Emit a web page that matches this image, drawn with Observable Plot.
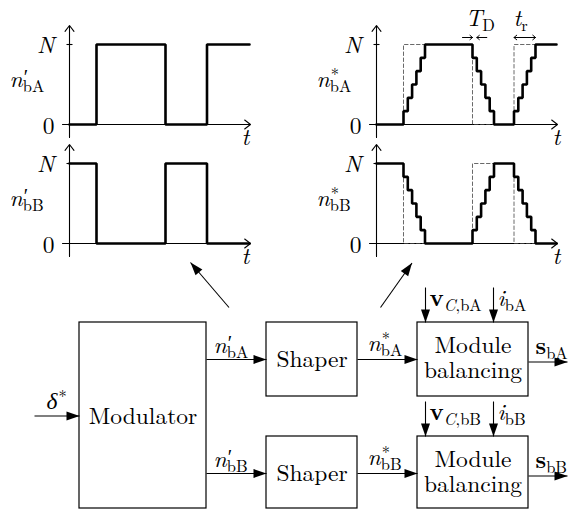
<!DOCTYPE html>
<html><head><meta charset="utf-8">
<script src="https://cdn.jsdelivr.net/npm/d3@7"></script>
<script src="https://cdn.jsdelivr.net/npm/@observablehq/plot@0.6"></script>
<style>
html,body{margin:0;padding:0;background:#fff;}
#chart svg{display:block;background:#fff}
</style>
</head><body><div id="chart"></div>
<script>
// ---------------- data ----------------
const N_LEVELS = 6;                 // levels of the shaped signal (0 … N)
const T_END = 18;                   // time span shown in each waveform panel
const T_D = 0.43;                   // dwell time per level
const edgesA = [2.7, 9.6, 13.75];   // switching instants, leg A
const edgesB = [2.7, 9.6, 13.75];   // switching instants, leg B
const startA = 0;                   // leg A starts low
const startB = N_LEVELS;            // leg B starts high
const tickLabels = ["0", "N"];
const legs = ["bA", "bB"];
const blockNames = ["Modulator", "Shaper", "Module", "balancing"];

// ---------------- layout ----------------
const FONT = "Latin Modern Roman";
const PX_T = 10, PANEL_H = 80;
const panels = [
  {x0: 69,  y0: 124, edges: edgesA, start: startA, shaped: false, mark: "′", leg: legs[0], tx: 172},
  {x0: 69,  y0: 243, edges: edgesB, start: startB, shaped: false, mark: "′", leg: legs[1], tx: 172},
  {x0: 376, y0: 124, edges: edgesA, start: startA, shaped: true,  mark: "*", leg: legs[0], tx: 176},
  {x0: 376, y0: 243, edges: edgesB, start: startB, shaped: true,  mark: "*", leg: legs[1], tx: 176}
];

function idealPoints(edges, start) {
  const pts = [[0, start]]; let cur = start;
  for (const e of edges) { pts.push([e, cur]); cur = cur ? 0 : N_LEVELS; pts.push([e, cur]); }
  pts.push([T_END, cur]); return pts;
}
function shapedPoints(edges, start) {
  const pts = [[0, start]]; let cur = start;
  for (const e of edges) {
    const dir = cur ? -1 : 1;
    for (let k = 0; k < N_LEVELS; k++) { const t = e + k * T_D; pts.push([t, cur]); cur += dir; pts.push([t, cur]); }
  }
  pts.push([T_END, cur]); return pts;
}

const solid = [], dashed = [], axes = [], ticks = [], smallArrows = [];
panels.forEach((p, i) => {
  const X = t => p.x0 + t * PX_T, Y = v => p.y0 - v / N_LEVELS * PANEL_H;
  if (p.shaped) {
    idealPoints(p.edges, p.start).forEach(([t, v]) => dashed.push({x: X(t), y: Y(v), z: i}));
    shapedPoints(p.edges, p.start).forEach(([t, v]) => solid.push({x: X(t), y: Y(v), z: i}));
  } else {
    idealPoints(p.edges, p.start).forEach(([t, v]) => solid.push({x: X(t), y: Y(v), z: i}));
  }
  axes.push({x1: p.x0, y1: p.y0 + 13, x2: p.x0, y2: p.y0 - 99});
  axes.push({x1: p.x0 - 7, y1: p.y0, x2: p.x0 + 181, y2: p.y0});
  ticks.push({x1: p.x0 - 3, y1: Y(N_LEVELS), x2: p.x0 + 3, y2: Y(N_LEVELS)});
});
// T_D and t_r annotations (top-right panel)
{
  const p = panels[2], X = t => p.x0 + t * PX_T, ya = 37;
  const fall = X(edgesA[1]), rise = X(edgesA[2]), tr = (N_LEVELS - 1) * T_D * PX_T;
  smallArrows.push({x1: fall - 10, y1: ya, x2: fall, y2: ya});
  smallArrows.push({x1: fall + T_D * PX_T + 10, y1: ya, x2: fall + T_D * PX_T, y2: ya});
  smallArrows.push({x1: rise + tr / 2, y1: ya, x2: rise, y2: ya});
  smallArrows.push({x1: rise + tr / 2, y1: ya, x2: rise + tr, y2: ya});
}

// block diagram
const boxes = [
  {x1: 79, x2: 206, y1: 322, y2: 508},
  {x1: 266, x2: 357, y1: 322, y2: 396}, {x1: 266, x2: 357, y1: 436, y2: 508},
  {x1: 417, x2: 528, y1: 322, y2: 396}, {x1: 417, x2: 528, y1: 436, y2: 508}
];
const flows = [
  [34, 415.5, 79, 415.5],
  [206, 359, 266, 359], [206, 473, 266, 473],
  [357, 359, 417, 359], [357, 473, 417, 473],
  [528, 361.5, 567, 361.5], [528, 475.5, 567, 475.5],
  [425, 287, 425, 322], [493, 287, 493, 322],
  [425, 401, 425, 436], [493, 401, 493, 436],
  [228.5, 307, 190, 262], [380, 307, 411.5, 262.5]
].map(([x1, y1, x2, y2]) => ({x1, y1, x2, y2, a: Math.atan2(y2 - y1, x2 - x1) * 180 / Math.PI}));

// ---------------- text layout ----------------
const SIZE = 23.5, SCRIPT = 16.5;
const ctx = document.createElement("canvas").getContext("2d");
const fontStr = (f, s) => `${f === "i" ? "italic " : ""}${f === "b" ? "bold " : ""}${s}px "${FONT}", serif`;
const measure = (t, f, s) => { ctx.font = fontStr(f, s); return ctx.measureText(t).width; };
const pieces = [];
function compose(x, y, parts, anchor = "start") {
  const laid = []; let cx = 0, supX = 0, subX = 0, inS = false;
  for (const [t, f, role] of parts) {
    if (role === "b") {
      if (inS) { cx = Math.max(supX, subX); inS = false; }
      laid.push({t, f, s: SIZE, dx: cx, dy: 0}); cx += measure(t, f, SIZE);
    } else {
      if (!inS) { supX = subX = cx; inS = true; }
      if (role === "^") {
        const s = t === "′" ? 20 : SCRIPT, dy = t === "′" ? -3 : -7;
        laid.push({t, f, s, dx: supX + 1, dy}); supX += measure(t, f, s) + 1;
      } else {
        laid.push({t, f, s: SCRIPT, dx: subX, dy: 5}); subX += measure(t, f, SCRIPT);
      }
    }
  }
  if (inS) cx = Math.max(supX, subX);
  const off = anchor === "end" ? -cx : anchor === "middle" ? -cx / 2 : 0;
  for (const p of laid) pieces.push({x: x + off + p.dx, y: y + p.dy, text: p.t, f: p.f, size: p.s});
}
panels.forEach(p => {
  compose(p.x0 - 60, p.y0 - 38, [["n", "i", "b"], [p.mark, "r", "^"], [p.leg, "r", "_"]]);
  compose(p.x0 - 15, p.y0 - 72, [[tickLabels[1], "i", "b"]], "end");
  compose(p.x0 - 15, p.y0 + 9, [[tickLabels[0], "r", "b"]], "end");
  compose(p.x0 + p.tx, p.y0 + 20, [["t", "i", "b"]]);
});
compose(465, 25, [["T", "i", "b"], ["D", "r", "_"]]);
compose(513, 25, [["t", "i", "b"], ["r", "r", "_"]]);
compose(46, 408, [["δ", "i", "b"], ["*", "r", "^"]]);
legs.forEach((leg, k) => {
  const dy = k * 114;
  compose(213, 352 + dy, [["n", "i", "b"], ["′", "r", "^"], [leg, "r", "_"]]);
  compose(367, 350 + dy, [["n", "i", "b"], ["*", "r", "^"], [leg, "r", "_"]]);
  compose(429, 305 + dy, [["v", "b", "b"], ["C", "i", "_"], ["," + leg, "r", "_"]]);
  compose(497, 305 + dy, [["i", "i", "b"], [leg, "r", "_"]]);
  compose(535, 353 + dy, [["s", "b", "b"], [leg, "r", "_"]]);
});
const centered = [
  {x: 142.5, y: 423, text: blockNames[0]},
  {x: 311.5, y: 366, text: blockNames[1]}, {x: 311.5, y: 480, text: blockNames[1]},
  {x: 472.5, y: 352, text: blockNames[2]}, {x: 472.5, y: 377, text: blockNames[3]},
  {x: 472.5, y: 466, text: blockNames[2]}, {x: 472.5, y: 491, text: blockNames[3]}
];

const head = {draw(c) { const L = 13, W = 4.5; c.moveTo(0, 0); c.lineTo(-L, -W); c.lineTo(-L, W); c.closePath(); }};

const textOpts = {x: "x", y: "y", text: "text", fontSize: d => d.size, fontFamily: FONT, textAnchor: "start", lineAnchor: "bottom", fill: "black"};

const chart = Plot.plot({
  width: 569, height: 510, margin: 0,
  x: {type: "linear", domain: [0, 569], range: [0, 569], axis: null},
  y: {type: "linear", domain: [0, 510], range: [0, 510], axis: null},
  style: {background: "white"},
  marks: [
    Plot.arrow(axes, {x1: "x1", y1: "y1", x2: "x2", y2: "y2", stroke: "black", strokeWidth: 1.1, headLength: 10, headAngle: 75}),
    Plot.link(ticks, {x1: "x1", y1: "y1", x2: "x2", y2: "y2", stroke: "black", strokeWidth: 1.1}),
    Plot.line(dashed, {x: "x", y: "y", z: "z", stroke: "#444", strokeWidth: 0.8, strokeDasharray: "3.5,2.5", curve: "linear"}),
    Plot.line(solid, {x: "x", y: "y", z: "z", stroke: "black", strokeWidth: 2.6, strokeLinejoin: "miter", curve: "linear"}),
    Plot.arrow(smallArrows, {x1: "x1", y1: "y1", x2: "x2", y2: "y2", stroke: "black", strokeWidth: 1, headLength: 8, headAngle: 80}),
    Plot.rect(boxes, {x1: "x1", x2: "x2", y1: "y1", y2: "y2", fill: "white", stroke: "black", strokeWidth: 1.2}),
    Plot.link(flows, {x1: "x1", y1: "y1", x2: "x2", y2: "y2", stroke: "black", strokeWidth: 1.1}),
    Plot.dot(flows, {x: "x2", y: "y2", rotate: "a", symbol: head, r: 5, fill: "black", stroke: "none"}),
    Plot.text(pieces.filter(d => d.f === "i"), {...textOpts, fontStyle: "italic"}),
    Plot.text(pieces.filter(d => d.f === "r"), textOpts),
    Plot.text(pieces.filter(d => d.f === "b"), {...textOpts, fontWeight: "bold"}),
    Plot.text(centered, {x: "x", y: "y", text: "text", fontSize: SIZE, fontFamily: FONT, textAnchor: "middle", lineAnchor: "bottom", fill: "black"})
  ]
});
document.getElementById("chart").appendChild(chart);
</script>
</body></html>
